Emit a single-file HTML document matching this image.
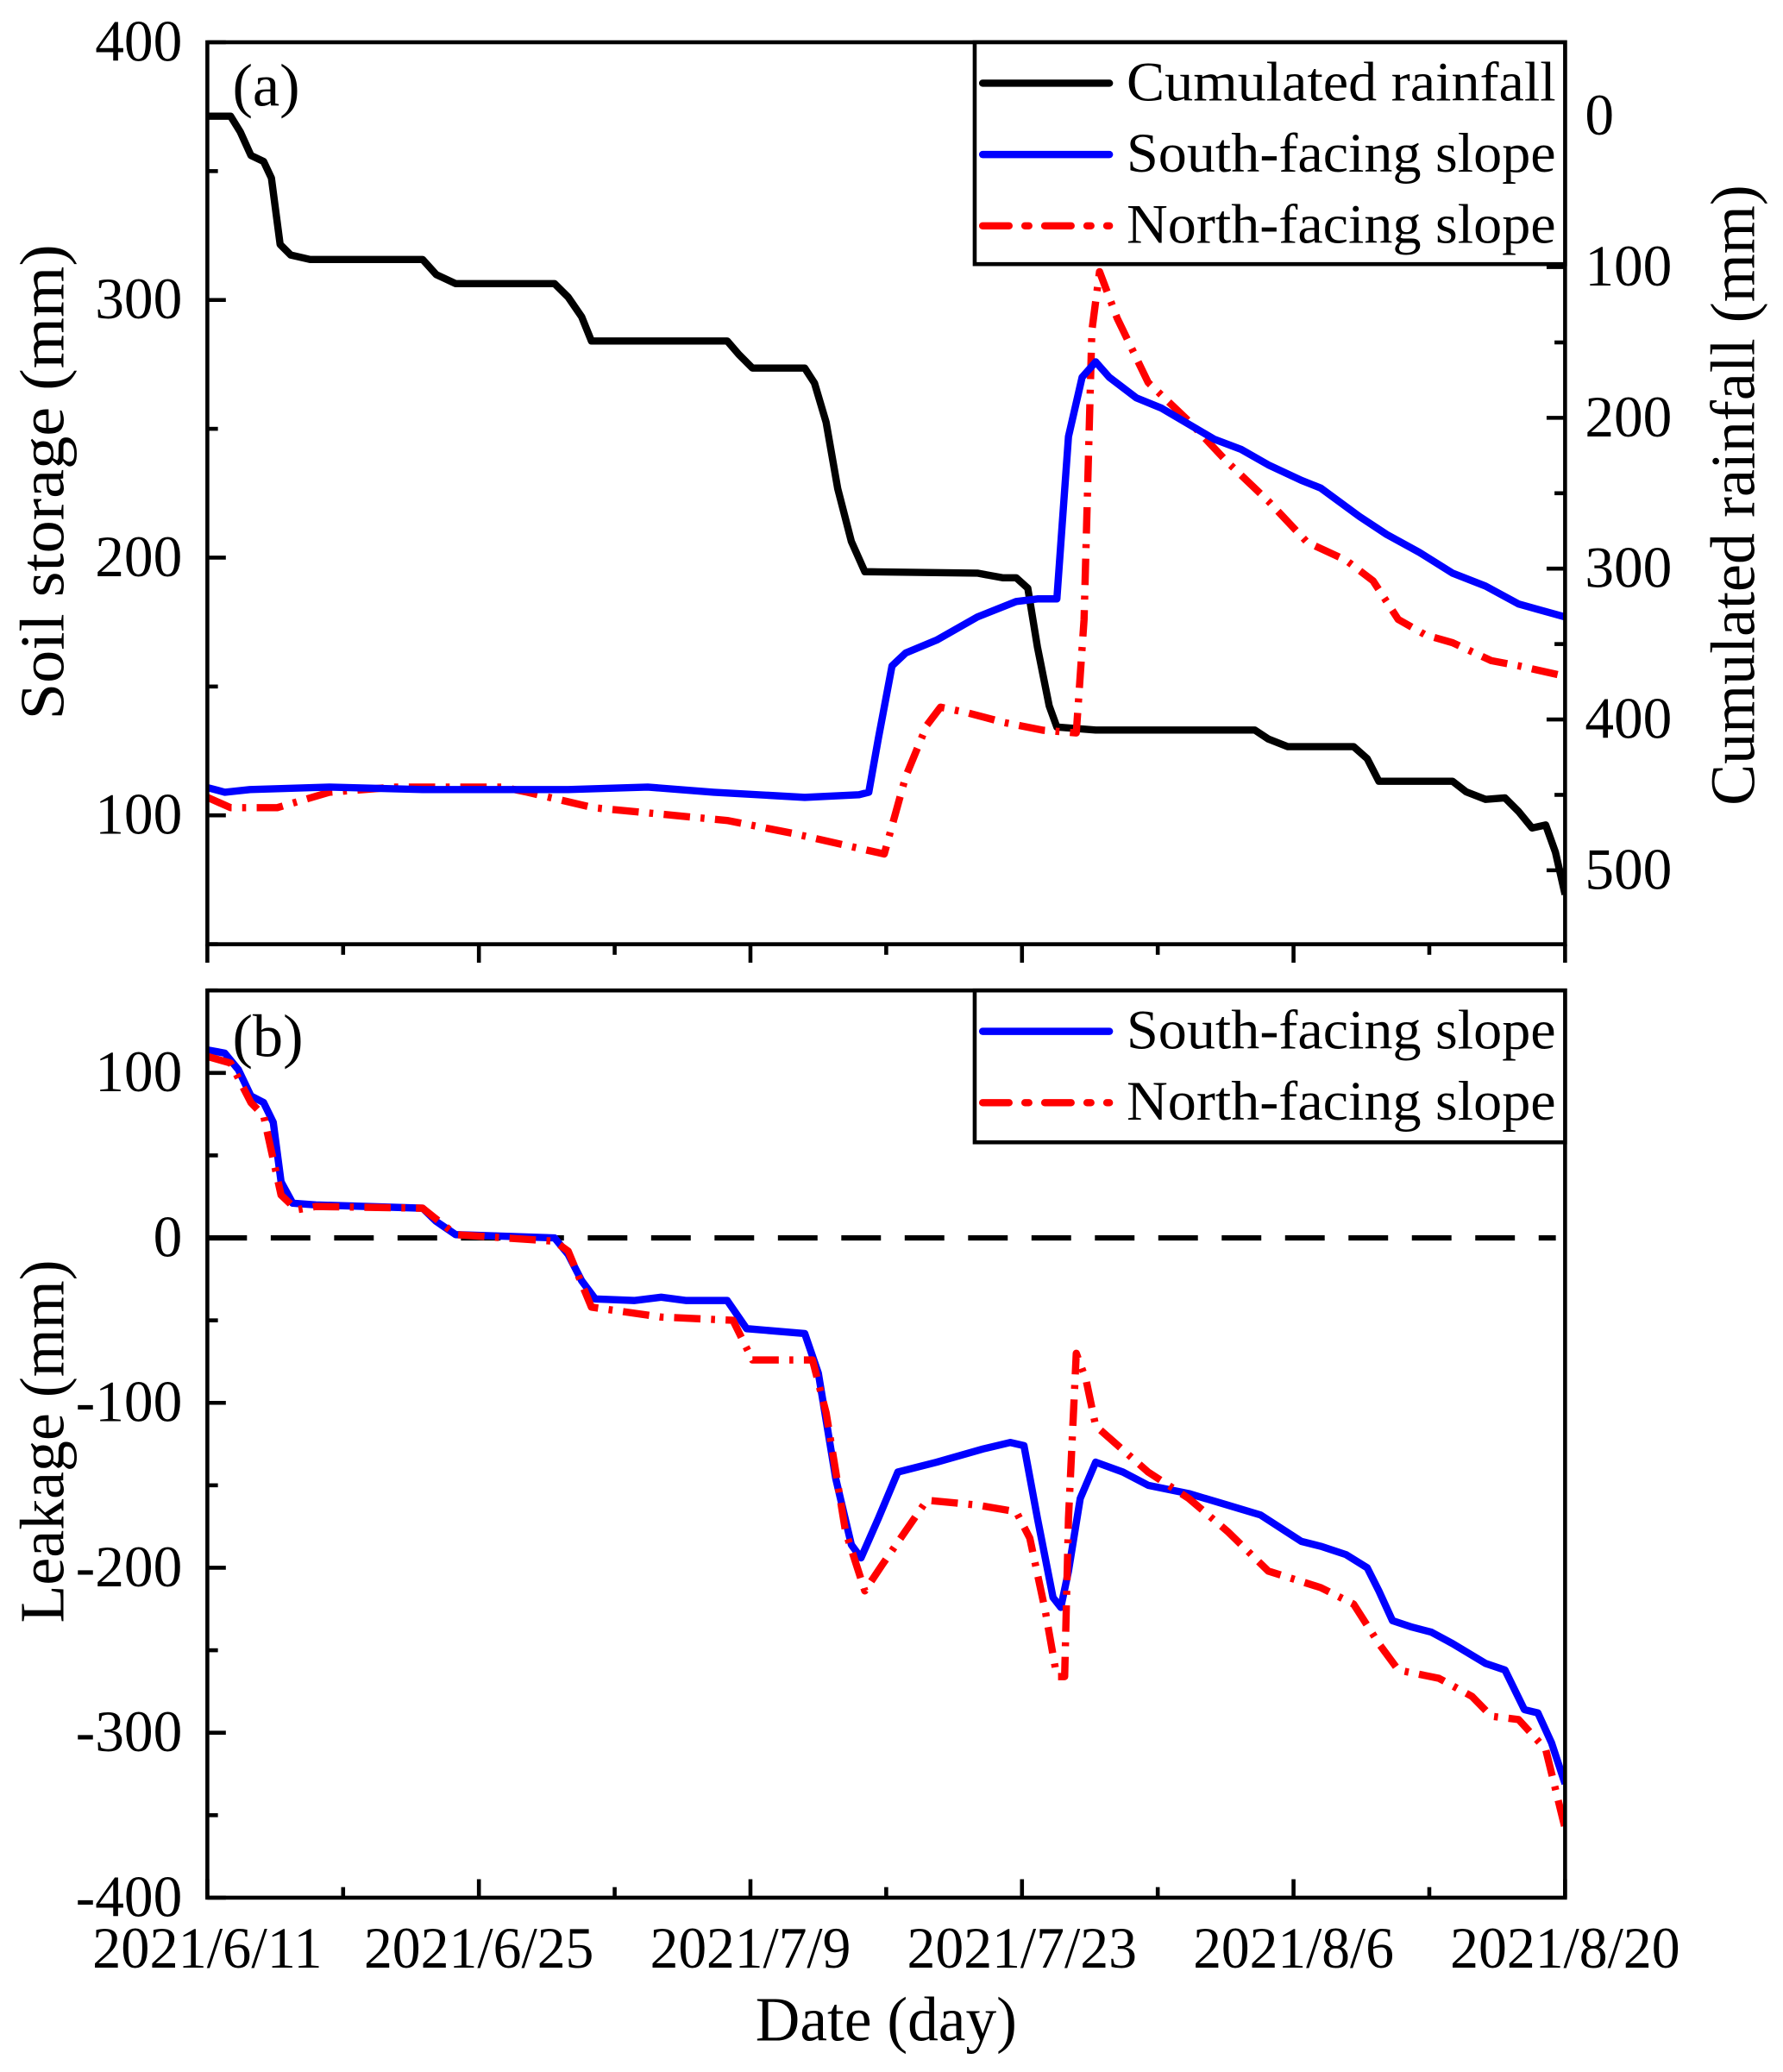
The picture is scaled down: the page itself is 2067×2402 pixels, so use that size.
<!DOCTYPE html>
<html><head><meta charset="utf-8">
<style>
html,body{margin:0;padding:0;background:#fff;}
svg{display:block;}
text{font-family:"Liberation Serif","DejaVu Serif",serif;fill:#000;}
</style></head>
<body>
<svg id="chart" width="2067" height="2402" viewBox="0 0 1350 1569" preserveAspectRatio="none" xmlns="http://www.w3.org/2000/svg">
<g id="marks"></g>
<g id="axes"></g>
</svg>
<script>
// ---- data (day index from 2021/6/11) ----
const xTickLabels = ["2021/6/11","2021/6/25","2021/7/9","2021/7/23","2021/8/6","2021/8/20"];
const xTickDays = [0,14,28,42,56,70];
const soilTicks = [100,200,300,400];
const rainTicks = [0,100,200,300,400,500];
const leakTicks = [100,0,-100,-200,-300,-400];

const rainDays = [0,1.2,1.7,2.25,2.9,3.3,3.75,4.3,5.3,11.1,11.8,12.8,17.9,18.6,19.3,19.8,26.8,27.4,28.1,30.8,31.3,31.9,32.5,33.2,33.9,39.7,41.0,41.7,42.3,42.8,43.4,43.8,45.8,54.0,54.7,55.7,59.1,59.8,60.4,64.2,64.9,65.9,66.9,67.6,68.3,69.0,69.5,70];
const rainVals = [0,0,10.5,26,30,41,85,92,95,95,105,111,111,120,133,149,149,158,167,167,177,203,247,282,302,303,306,306,313,352,391,405,407,407,413,418,418,426,441,441,448,453,452,461,472,470,488,516];

const soilSDays = [0,0.9,2.2,6.3,11.1,18.6,22.7,26.1,30.8,33.6,34.1,34.6,35.3,36,37.6,39.7,41.7,42.8,43.8,44.4,45.1,45.8,46.5,47.9,49.2,51.9,53.3,54.7,56.4,57.4,59.4,60.8,62.5,64.2,65.9,67.6,70];
const soilSVals = [110.8,109,110,111,110,110,111,109,107,108,109,130,158,163,168,177,183,184,184,247,270,276,270,262,258,246,242,236,230,227,216,209,202,194,189,182,177];

const soilNDays = [0,1.2,3.6,6.3,9.7,15.2,16.5,19.9,26.8,30.2,34.9,36,37.1,37.8,39.1,41.1,43.1,44.8,45.2,45.6,46,46.9,48.5,50.6,52.6,54.7,56.7,58.7,60.1,61.4,62.8,64.2,66.2,67.6,70];
const soilNVals = [107,103,103,109,111,111,109,103,98,93,85,115,135,142,140,136,133,132,176,288,311,293,268,253,237,222,206,199,191,176,170,167,160,158,154];

const leakSDays = [0,0.9,1.6,2.25,2.9,3.4,3.8,4.4,5.6,11.1,11.8,12.8,17.9,18.6,19.3,20,22,23.4,24.7,26.8,27.8,30.8,31.5,32.4,33.2,33.7,34.6,35.6,37.6,40,41.4,42.1,42.8,43.6,44,44.4,45,45.8,47.2,48.5,50.6,52.6,54.3,56.4,57.4,58.7,59.8,60.4,61.1,62.1,63.1,64.2,65.9,66.9,67.9,68.6,69.3,70];
const leakSVals = [114,112,102,86,82,70,34,21,20,18,10,2,0,-10,-26,-37,-38,-36,-38,-38,-55,-58,-82,-146,-186,-194,-170,-142,-136,-128,-124,-126,-170,-218,-224,-202,-158,-136,-142,-150,-155,-162,-168,-184,-187,-192,-200,-214,-232,-236,-239,-246,-258,-262,-286,-288,-306,-331];

const leakNDays = [0,1.2,2.25,2.9,3.8,4.6,5.6,11.1,12.8,17.9,18.6,19.8,23.4,27.1,28.1,31.2,31.9,32.9,33.9,34.8,37.1,39.7,41.7,42.4,43.2,43.8,44.2,44.4,44.8,45.3,45.8,48.5,50.6,52.6,54.7,57.4,59.1,60.4,61.4,63.5,65.2,66.2,67.6,69,70];
const leakNVals = [110,106,82,74,26,17,19,18,2,-2,-8,-42,-48,-50,-74,-74,-106,-178,-214,-198,-159,-162,-166,-182,-226,-266,-266,-170,-70,-86,-114,-142,-158,-178,-202,-212,-222,-246,-262,-267,-278,-290,-292,-310,-358];

// ---- layout (viewBox units) ----
const L=157,R=1185,aT=32,aB=715,bT=750,bB=1437;
const xS = d => L + d*(R-L)/70;
const ySoil = v => aB - (v-50)*(aB-aT)/350;
const yRain = v => 88 + v*1.142;
const yLeak = v => bB - (v+400)*(bB-bT)/550;
const NS="http://www.w3.org/2000/svg";
const marks=document.getElementById('marks'), axes=document.getElementById('axes');
function el(tag,attrs,parent){const e=document.createElementNS(NS,tag);for(const k in attrs)e.setAttribute(k,attrs[k]);parent.appendChild(e);return e;}
function txt(s,attrs,parent){const t=el('text',attrs,parent);t.textContent=s;return t;}
function pathD(days,vals,ys){return days.map((d,i)=>(i?'L':'M')+xS(d).toFixed(1)+','+ys(vals[i]).toFixed(1)).join(' ');}
const DASHDOT="20 8 3 8";
const LW=5.5;

const defs=el('defs',{},marks);
const ca=el('clipPath',{id:'ca'},defs); el('rect',{x:L,y:aT,width:R-L,height:aB-aT},ca);
const cb=el('clipPath',{id:'cb'},defs); el('rect',{x:L,y:bT,width:R-L,height:bB-bT},cb);

let p;
p=el('path',{d:pathD(rainDays,rainVals,yRain),fill:'none',stroke:'#000','stroke-width':LW,'stroke-linejoin':'round','clip-path':'url(#ca)'},marks);


p=el('path',{d:pathD(soilNDays,soilNVals,ySoil),fill:'none',stroke:'#ff0000','stroke-width':LW,'stroke-dasharray':DASHDOT,'stroke-linejoin':'round','clip-path':'url(#ca)'},marks);


p=el('path',{d:pathD(soilSDays,soilSVals,ySoil),fill:'none',stroke:'#0000ff','stroke-width':LW,'stroke-linejoin':'round','clip-path':'url(#ca)'},marks);



p=el('line',{x1:L,x2:1178,y1:yLeak(0),y2:yLeak(0),stroke:'#000','stroke-width':4,'stroke-dasharray':'30 18'},marks);


p=el('path',{d:pathD(leakSDays,leakSVals,yLeak),fill:'none',stroke:'#0000ff','stroke-width':LW,'stroke-linejoin':'round','clip-path':'url(#cb)'},marks);


p=el('path',{d:pathD(leakNDays,leakNVals,yLeak),fill:'none',stroke:'#ff0000','stroke-width':LW,'stroke-dasharray':DASHDOT,'stroke-linejoin':'round','clip-path':'url(#cb)'},marks);



p=el('rect',{x:L,y:aT,width:R-L,height:aB-aT,fill:'none',stroke:'#000','stroke-width':3},axes);


p=el('rect',{x:L,y:bT,width:R-L,height:bB-bT,fill:'none',stroke:'#000','stroke-width':3},axes);



for(let d=0;d<=70;d+=7){
  const major = d%14===0, x=xS(d);
  el('line',{x1:x,x2:x,y1:aB,y2:aB+(major?14:8),stroke:'#000','stroke-width':3},axes);
  el('line',{x1:x,x2:x,y1:bB,y2:bB-(major?14:8),stroke:'#000','stroke-width':3},axes);
}
xTickLabels.forEach((s,i)=>{
  const w = s.length>=9 ? 174 : 152;
  const t=txt(s,{x:xS(xTickDays[i])-w/2,y:1490,'font-size':44,textLength:w,lengthAdjust:'spacingAndGlyphs'},axes);
  
  
});
for(let v=50;v<=400;v+=50){const y=ySoil(v);el('line',{x1:L,x2:L+(v%100===0?14:8),y1:y,y2:y,stroke:'#000','stroke-width':3},axes);}
soilTicks.forEach(v=>{const t=txt(v,{x:138,y:ySoil(v)+14,'font-size':44,'text-anchor':'end'},axes);
  
  });
for(let v=0;v<=500;v+=50){const y=yRain(v);el('line',{x1:R,x2:R-(v%100===0?14:8),y1:y,y2:y,stroke:'#000','stroke-width':3},axes);}
rainTicks.forEach(v=>{const t=txt(v,{x:1200,y:yRain(v)+14,'font-size':44,'text-anchor':'start'},axes);
  
  });
for(let v=-400;v<=150;v+=50){const y=yLeak(v);el('line',{x1:L,x2:L+(v%100===0?14:8),y1:y,y2:y,stroke:'#000','stroke-width':3},axes);}
leakTicks.forEach(v=>{const t=txt(v,{x:138,y:yLeak(v)+14,'font-size':44,'text-anchor':'end'},axes);
  
  });

let t;
t=txt('Soil storage (mm)',{x:-180,y:0,'font-size':48,textLength:360,lengthAdjust:'spacingAndGlyphs',transform:'translate(48,365) rotate(-90)'},axes);


t=txt('Cumulated rainfall (mm)',{x:-235,y:0,'font-size':48,textLength:470,lengthAdjust:'spacingAndGlyphs',transform:'translate(1328,375) rotate(-90)'},axes);


t=txt('Leakage (mm)',{x:-137,y:0,'font-size':48,textLength:275,lengthAdjust:'spacingAndGlyphs',transform:'translate(48,1092) rotate(-90)'},axes);


t=txt('Date (day)',{x:572,y:1545,'font-size':48,textLength:198,lengthAdjust:'spacingAndGlyphs'},axes);


t=txt('(a)',{x:176,y:80,'font-size':46},axes);


t=txt('(b)',{x:176,y:800,'font-size':46},axes);



function legend(y0,h,items,name){
  const g=el('g',{},axes);
  
  
  el('rect',{x:738,y:y0,width:R-738,height:h,fill:'#fff',stroke:'#000','stroke-width':3},g);
  items.forEach((it,i)=>{
    const y=y0+31+i*54;
    const ln=el('line',{x1:744,x2:840,y1:y,y2:y,stroke:it.c,'stroke-width':LW,'stroke-linecap':'round'},g);
    if(it.dash) ln.setAttribute('stroke-dasharray','20 12 3 12');
    const tt=txt(it.s,{x:853,y:y+13,'font-size':42,textLength:325,lengthAdjust:'spacingAndGlyphs'},g);
    
    
  });
}
legend(aT,168,[{s:'Cumulated rainfall',c:'#000'},{s:'South-facing slope',c:'#0000ff'},{s:'North-facing slope',c:'#ff0000',dash:1}],'legend-panel-a');
legend(bT,115,[{s:'South-facing slope',c:'#0000ff'},{s:'North-facing slope',c:'#ff0000',dash:1}],'legend-panel-b');
</script>
</body></html>
